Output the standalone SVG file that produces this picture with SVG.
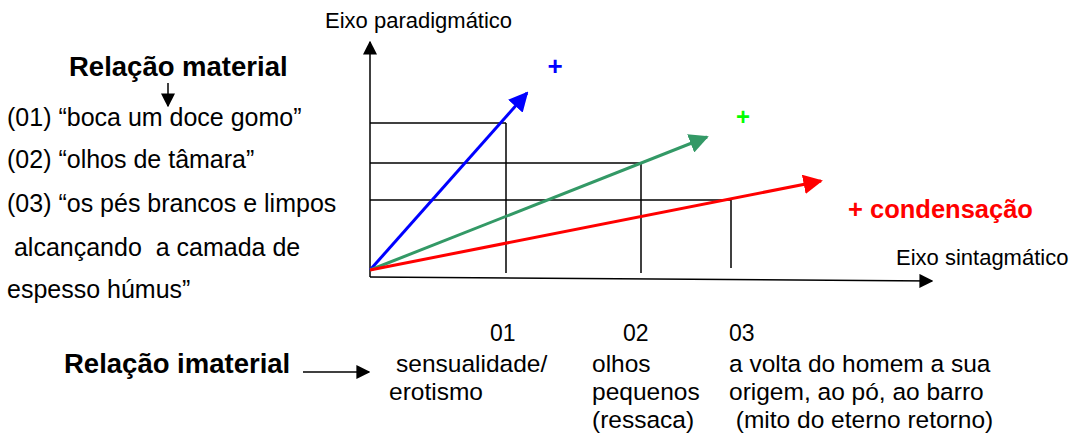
<svg xmlns="http://www.w3.org/2000/svg" width="1075" height="434" viewBox="0 0 1075 434">
<style>
text{font-family:"Liberation Sans",Arial,sans-serif;fill:#000}
.t{font-size:25px}
.b{font-size:27.5px;font-weight:bold}
.n{font-size:23px}
.s{font-size:24.5px}
.ax{font-size:22px}
.k{stroke:#000;stroke-width:1.5;fill:none}
</style>
<defs>
<marker id="mk" viewBox="0 0 10 10" refX="9" refY="5" markerWidth="14" markerHeight="14" markerUnits="userSpaceOnUse" orient="auto"><path d="M0,0L10,5L0,10z" fill="#000"/></marker>
<marker id="mb" viewBox="0 0 10 10" refX="9" refY="5" markerWidth="6.5" markerHeight="6.5" orient="auto"><path d="M0,0L10,5L0,10z" fill="#0000ff"/></marker>
<marker id="mg" viewBox="0 0 10 10" refX="9" refY="5" markerWidth="6.5" markerHeight="6.5" orient="auto"><path d="M0,0L10,5L0,10z" fill="#339966"/></marker>
<marker id="mr" viewBox="0 0 10 10" refX="9" refY="5" markerWidth="6.5" markerHeight="6.5" orient="auto"><path d="M0,0L10,5L0,10z" fill="#ff0000"/></marker>
</defs>
<g id="left-text">
<text class="b" x="69" y="76">Relação material</text>
<text class="t" x="7" y="126">(01) “boca um doce gomo”</text>
<text class="t" x="7" y="168">(02) “olhos de tâmara”</text>
<text class="t" x="7" y="212">(03) “os pés brancos e limpos</text>
<text class="t" x="7" y="256" xml:space="preserve"> alcançando  a camada de</text>
<text class="t" x="7" y="298">espesso húmus”</text>
<text class="b" x="64" y="373">Relação imaterial</text>
</g>
<g id="axes">
<text class="ax" x="325" y="28">Eixo paradigmático</text>
<text class="ax" x="896" y="265">Eixo sintagmático</text>
<line class="k" x1="370" y1="277" x2="370" y2="42" stroke-width="2.5" marker-end="url(#mk)"/>
<line class="k" x1="370" y1="277" x2="932" y2="281" stroke-width="2.5" marker-end="url(#mk)"/>
</g>
<g id="grid">
<line class="k" x1="370" y1="123" x2="506" y2="123"/>
<line class="k" x1="370" y1="163" x2="641" y2="163"/>
<line class="k" x1="370" y1="200" x2="731" y2="200"/>
<line class="k" x1="506" y1="123" x2="506" y2="273"/>
<line class="k" x1="641" y1="163" x2="641" y2="273"/>
<line class="k" x1="731" y1="200" x2="731" y2="268"/>
</g>
<g id="connectors">
<line x1="370" y1="270" x2="527" y2="93" stroke="#0000ff" stroke-width="3" marker-end="url(#mb)"/>
<line x1="370" y1="270" x2="707" y2="137" stroke="#339966" stroke-width="3" marker-end="url(#mg)"/>
<line x1="370" y1="270" x2="821" y2="181" stroke="#ff0000" stroke-width="3" marker-end="url(#mr)"/>
<line x1="168" y1="83" x2="168" y2="106" stroke="#000" stroke-width="1.5" marker-end="url(#mk)"/>
<line x1="303" y1="372" x2="369" y2="372" stroke="#000" stroke-width="1.5" marker-end="url(#mk)"/>
</g>
<g id="labels">
<text x="555" y="75" text-anchor="middle" style="font-size:26px;font-weight:bold;fill:#0000ff">+</text>
<text x="743" y="125" text-anchor="middle" style="font-size:24px;font-weight:bold;fill:#00ff00">+</text>
<text x="848" y="218" style="font-size:25.5px;font-weight:bold;fill:#ff0000">+ condensação</text>
</g>
<g id="bottom">
<text class="n" x="490" y="341">01</text>
<text class="n" x="623" y="341">02</text>
<text class="n" x="729" y="341">03</text>
<text class="s" x="396" y="372">sensualidade/</text>
<text class="s" x="389" y="400">erotismo</text>
<text class="s" x="592" y="372">olhos</text>
<text class="s" x="592" y="400">pequenos</text>
<text class="s" x="592" y="428">(ressaca)</text>
<text class="s" x="729" y="372">a volta do homem a sua</text>
<text class="s" x="729" y="400">origem, ao pó, ao barro</text>
<text class="s" x="729" y="428" xml:space="preserve"> (mito do eterno retorno)</text>
</g>
</svg>
